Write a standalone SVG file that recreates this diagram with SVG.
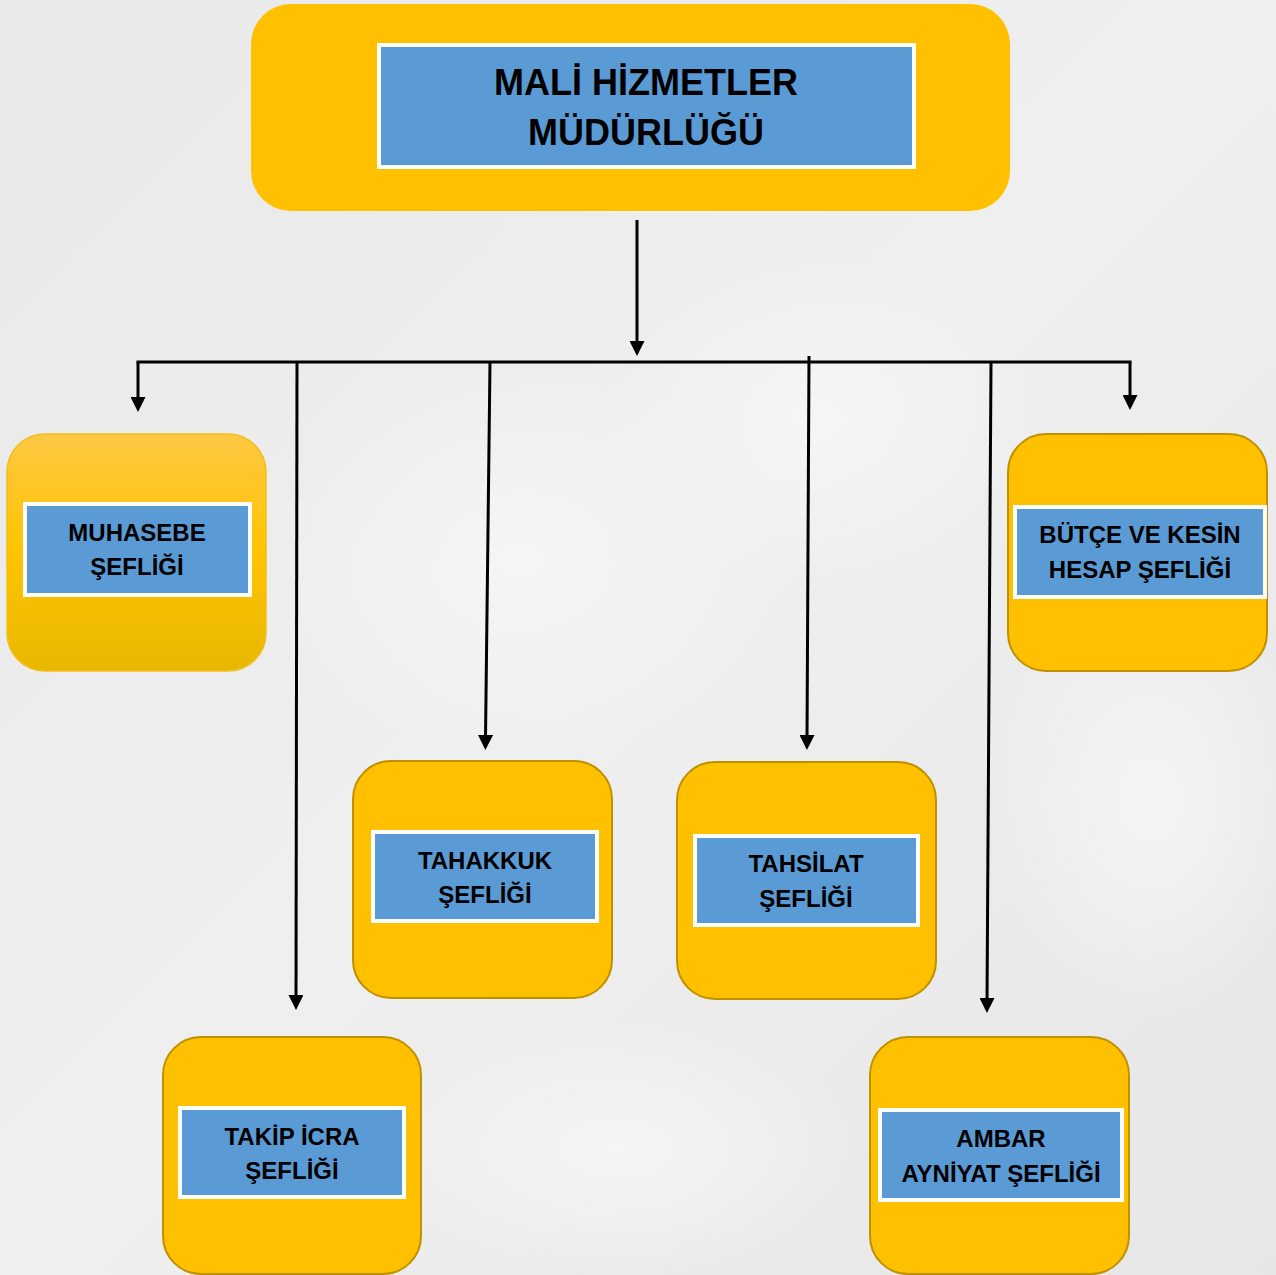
<svg xmlns="http://www.w3.org/2000/svg" width="1276" height="1275" viewBox="0 0 1276 1275">
<defs>
  <linearGradient id="bg" x1="0" y1="0" x2="1" y2="1">
    <stop offset="0" stop-color="#E9E9E9"/>
    <stop offset="0.5" stop-color="#EFEFEF"/>
    <stop offset="1" stop-color="#E6E6E6"/>
  </linearGradient>
  <radialGradient id="blob" cx="0.5" cy="0.5" r="0.5">
    <stop offset="0" stop-color="#F6F6F6" stop-opacity="0.9"/>
    <stop offset="1" stop-color="#F6F6F6" stop-opacity="0"/>
  </radialGradient>
  <linearGradient id="muh" x1="0" y1="0" x2="0" y2="1">
    <stop offset="0" stop-color="#FFC844"/>
    <stop offset="0.5" stop-color="#FFC400"/>
    <stop offset="1" stop-color="#E8B700"/>
  </linearGradient>
  <marker id="ah" viewBox="0 0 15 15" markerWidth="15" markerHeight="15" refX="4" refY="7.5" orient="auto" markerUnits="userSpaceOnUse">
    <path d="M0,0 L15,7.5 L0,15 z" fill="#000"/>
  </marker>
</defs>
<style>
  .box { fill: #FFC000; stroke: #BF9000; stroke-width: 2; }
  .inner { fill: #5B9BD5; stroke: #FFFFFF; stroke-width: 4; }
  .lbl { font-family: "Liberation Sans", Arial, sans-serif; font-weight: bold; font-size: 24px; fill: #000; text-anchor: middle; }
  .title { font-family: "Liberation Sans", Arial, sans-serif; font-weight: bold; font-size: 36px; fill: #000; text-anchor: middle; }
  .conn { stroke: #000; stroke-width: 3; fill: none; }
  .arr { stroke: #000; stroke-width: 3; fill: none; marker-end: url(#ah); }
</style>
<rect x="0" y="0" width="1276" height="1275" fill="url(#bg)"/>
<ellipse cx="520" cy="560" rx="260" ry="200" fill="url(#blob)"/>
<ellipse cx="820" cy="420" rx="220" ry="160" fill="url(#blob)"/>
<ellipse cx="1150" cy="800" rx="160" ry="220" fill="url(#blob)"/>
<ellipse cx="620" cy="1150" rx="240" ry="130" fill="url(#blob)"/>

<g id="connectors">
  <path class="arr" d="M637,220 V345"/>
  <path class="conn" d="M136.5,362 H1131.5"/>
  <path class="arr" d="M138,362 V401"/>
  <path class="arr" d="M1130,362 V399"/>
  <path class="arr" d="M297,362 L296,999"/>
  <path class="arr" d="M490,362 L485.5,739"/>
  <path class="arr" d="M809,356 L807,739"/>
  <path class="arr" d="M991,362 L987,1002"/>
</g>

<g id="node-mudurluk">
  <rect x="251" y="4" width="759" height="207" rx="40" ry="40" fill="#FFC000"/>
  <rect class="inner" x="379" y="45" width="535" height="122"/>
  <text class="title" x="646" y="95">MALİ HİZMETLER</text>
  <text class="title" x="646" y="145">MÜDÜRLÜĞÜ</text>
</g>

<g id="node-muhasebe">
  <rect x="7" y="434" width="259" height="237" rx="38" ry="38" fill="url(#muh)" stroke="#F2BE1A" stroke-width="1.5"/>
  <rect class="inner" x="25" y="504" width="225" height="91"/>
  <text class="lbl" x="137" y="541">MUHASEBE</text>
  <text class="lbl" x="137" y="575">ŞEFLİĞİ</text>
</g>

<g id="node-butce">
  <rect class="box" x="1008" y="434" width="259" height="237" rx="38" ry="38"/>
  <rect class="inner" x="1015" y="507" width="250" height="90"/>
  <text class="lbl" x="1140" y="543">BÜTÇE VE KESİN</text>
  <text class="lbl" x="1140" y="578">HESAP ŞEFLİĞİ</text>
</g>

<g id="node-tahakkuk">
  <rect class="box" x="353" y="761" width="259" height="237" rx="38" ry="38"/>
  <rect class="inner" x="373" y="832" width="224" height="89"/>
  <text class="lbl" x="485" y="869">TAHAKKUK</text>
  <text class="lbl" x="485" y="903">ŞEFLİĞİ</text>
</g>

<g id="node-tahsilat">
  <rect class="box" x="677" y="762" width="259" height="237" rx="38" ry="38"/>
  <rect class="inner" x="695" y="836" width="223" height="89"/>
  <text class="lbl" x="806" y="872">TAHSİLAT</text>
  <text class="lbl" x="806" y="907">ŞEFLİĞİ</text>
</g>

<g id="node-takip">
  <rect class="box" x="163" y="1037" width="258" height="237" rx="38" ry="38"/>
  <rect class="inner" x="180" y="1108" width="224" height="89"/>
  <text class="lbl" x="292" y="1145">TAKİP İCRA</text>
  <text class="lbl" x="292" y="1179">ŞEFLİĞİ</text>
</g>

<g id="node-ambar">
  <rect class="box" x="870" y="1037" width="259" height="237" rx="38" ry="38"/>
  <rect class="inner" x="880" y="1110" width="242" height="90"/>
  <text class="lbl" x="1001" y="1147">AMBAR</text>
  <text class="lbl" x="1001" y="1182">AYNİYAT ŞEFLİĞİ</text>
</g>
</svg>
